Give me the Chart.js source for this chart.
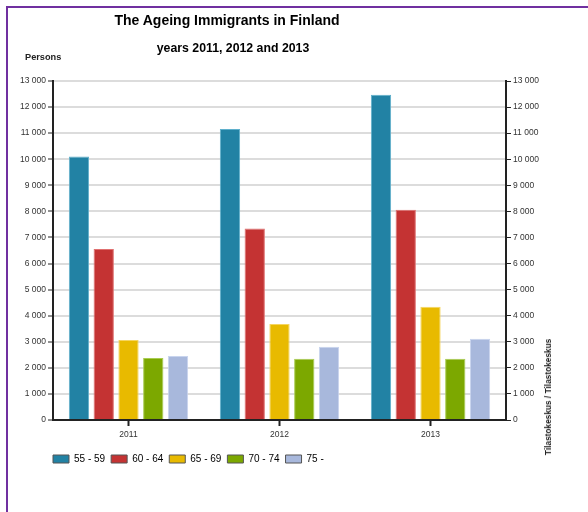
<!DOCTYPE html>
<html>
<head>
<meta charset="utf-8">
<script src="https://cdn.jsdelivr.net/npm/chart.js@4.4.1/dist/chart.umd.min.js"></script>
<style>
  body { margin: 0; background: #fff; font-family: "Liberation Sans", Arial, sans-serif; }
  #wrap { position: relative; width: 588px; height: 512px; overflow: hidden; }
  #frame { position: absolute; left: 6px; top: 6px; width: 600px; height: 520px;
           border-left: 2px solid #7030a0; border-top: 2px solid #7030a0; }
  #chart { position: absolute; left: 0; top: 0; }
  .txt { position: absolute; font-weight: bold; color: #000; white-space: nowrap; }
  #title { left: 227px; top: 12px; font-size: 14px; transform: translateX(-50%); }
  #sub { left: 233px; top: 41px; font-size: 12.3px; transform: translateX(-50%); }
  #persons { left: 25px; top: 52px; font-size: 9.2px; color: #222; }
  #source { left: 548px; top: 397px; font-size: 8.3px; color: #222;
            transform: translate(-50%, -50%) rotate(-90deg); }
</style>
</head>
<body>
<div id="wrap">
  <div id="frame"></div>
  <canvas id="chart" width="588" height="512"></canvas>
  <div class="txt" id="title">The Ageing Immigrants in Finland</div>
  <div class="txt" id="sub">years 2011, 2012 and 2013</div>
  <div class="txt" id="persons">Persons</div>
  <div class="txt" id="source">Tilastokeskus / Tilastokeskus</div>
</div>
<script>
// data
var years = ["2011", "2012", "2013"];
var ageGroups = ["55 - 59", "60 - 64", "65 - 69", "70 - 74", "75 -"];
var age55 = [10100, 11160, 12470];
var age60 = [6560, 7340, 8060];
var age65 = [3070, 3680, 4340];
var age70 = [2380, 2350, 2350];
var age75 = [2450, 2810, 3120];
var yMax = 13000;
var yStep = 1000;

var colors = ["#2282a4", "#c43333", "#e8ba00", "#7ca800", "#a8b8dc"];
var edges = ["#5fb0cc", "#e07070", "#f5d560", "#a8cc50", "#c8d4ee"];
var series = [age55, age60, age65, age70, age75];

function fmt(v) {
    return String(v).replace(/\B(?=(\d{3})+(?!\d))/g, " ");
}

var datasets = [];
for (var i = 0; i < series.length; i++) {
    datasets.push({
        label: ageGroups[i],
        data: series[i],
        backgroundColor: colors[i],
        borderColor: edges[i],
        borderWidth: 1,
        barPercentage: 0.82,
        categoryPercentage: 0.82
    });
}

var tickFont = { family: "Liberation Sans", size: 8.5 };

// nudge the legend so its first box lines up with the left axis
var legendShift = {
    id: 'legendShift',
    afterLayout: function (chart) {
        if (chart.legend) {
            chart.legend.left -= 6;
            chart.legend.right -= 6;
        }
    }
};

new Chart(document.getElementById("chart"), {
    type: 'bar',
    data: { labels: years, datasets: datasets },
    plugins: [legendShift],
    options: {
        responsive: false,
        animation: false,
        layout: { padding: { left: 8, right: 0, top: 81, bottom: 38 } },
        plugins: {
            tooltip: { enabled: false },
            legend: {
                position: 'bottom',
                align: 'start',
                fullSize: false,
                labels: {
                    boxWidth: 16,
                    boxHeight: 8,
                    padding: 6,
                    color: '#333',
                    font: { family: "Liberation Sans", size: 10 },
                    generateLabels: function (chart) {
                        return chart.data.datasets.map(function (ds, idx) {
                            return {
                                text: ds.label,
                                fillStyle: ds.backgroundColor,
                                strokeStyle: '#555',
                                lineWidth: 1,
                                datasetIndex: idx
                            };
                        });
                    }
                }
            }
        },
        scales: {
            x: {
                grid: { display: true, drawOnChartArea: false, offset: false, tickLength: 6, tickColor: '#222', tickWidth: 2 },
                border: { color: '#222', width: 2 },
                ticks: { color: '#333', font: tickFont, padding: 4 },
                afterFit: function (s) { s.height = 28; }
            },
            y: {
                min: 0, max: yMax,
                grid: { color: '#dcdcdc', lineWidth: 2, tickLength: 5, tickColor: '#222', tickWidth: 1 },
                border: { color: '#222', width: 2 },
                ticks: { stepSize: yStep, color: '#333', font: tickFont, padding: 2, callback: function (v) { return fmt(v); } },
                afterFit: function (s) { s.width = 45; }
            },
            y2: {
                position: 'right',
                min: 0, max: yMax,
                grid: { drawOnChartArea: false, tickLength: 5, tickColor: '#222', tickWidth: 1 },
                border: { color: '#222', width: 2 },
                ticks: { stepSize: yStep, color: '#333', font: tickFont, padding: 2, callback: function (v) { return fmt(v); } },
                afterFit: function (s) { s.width = 82; }
            }
        }
    }
});
</script>
</body>
</html>
